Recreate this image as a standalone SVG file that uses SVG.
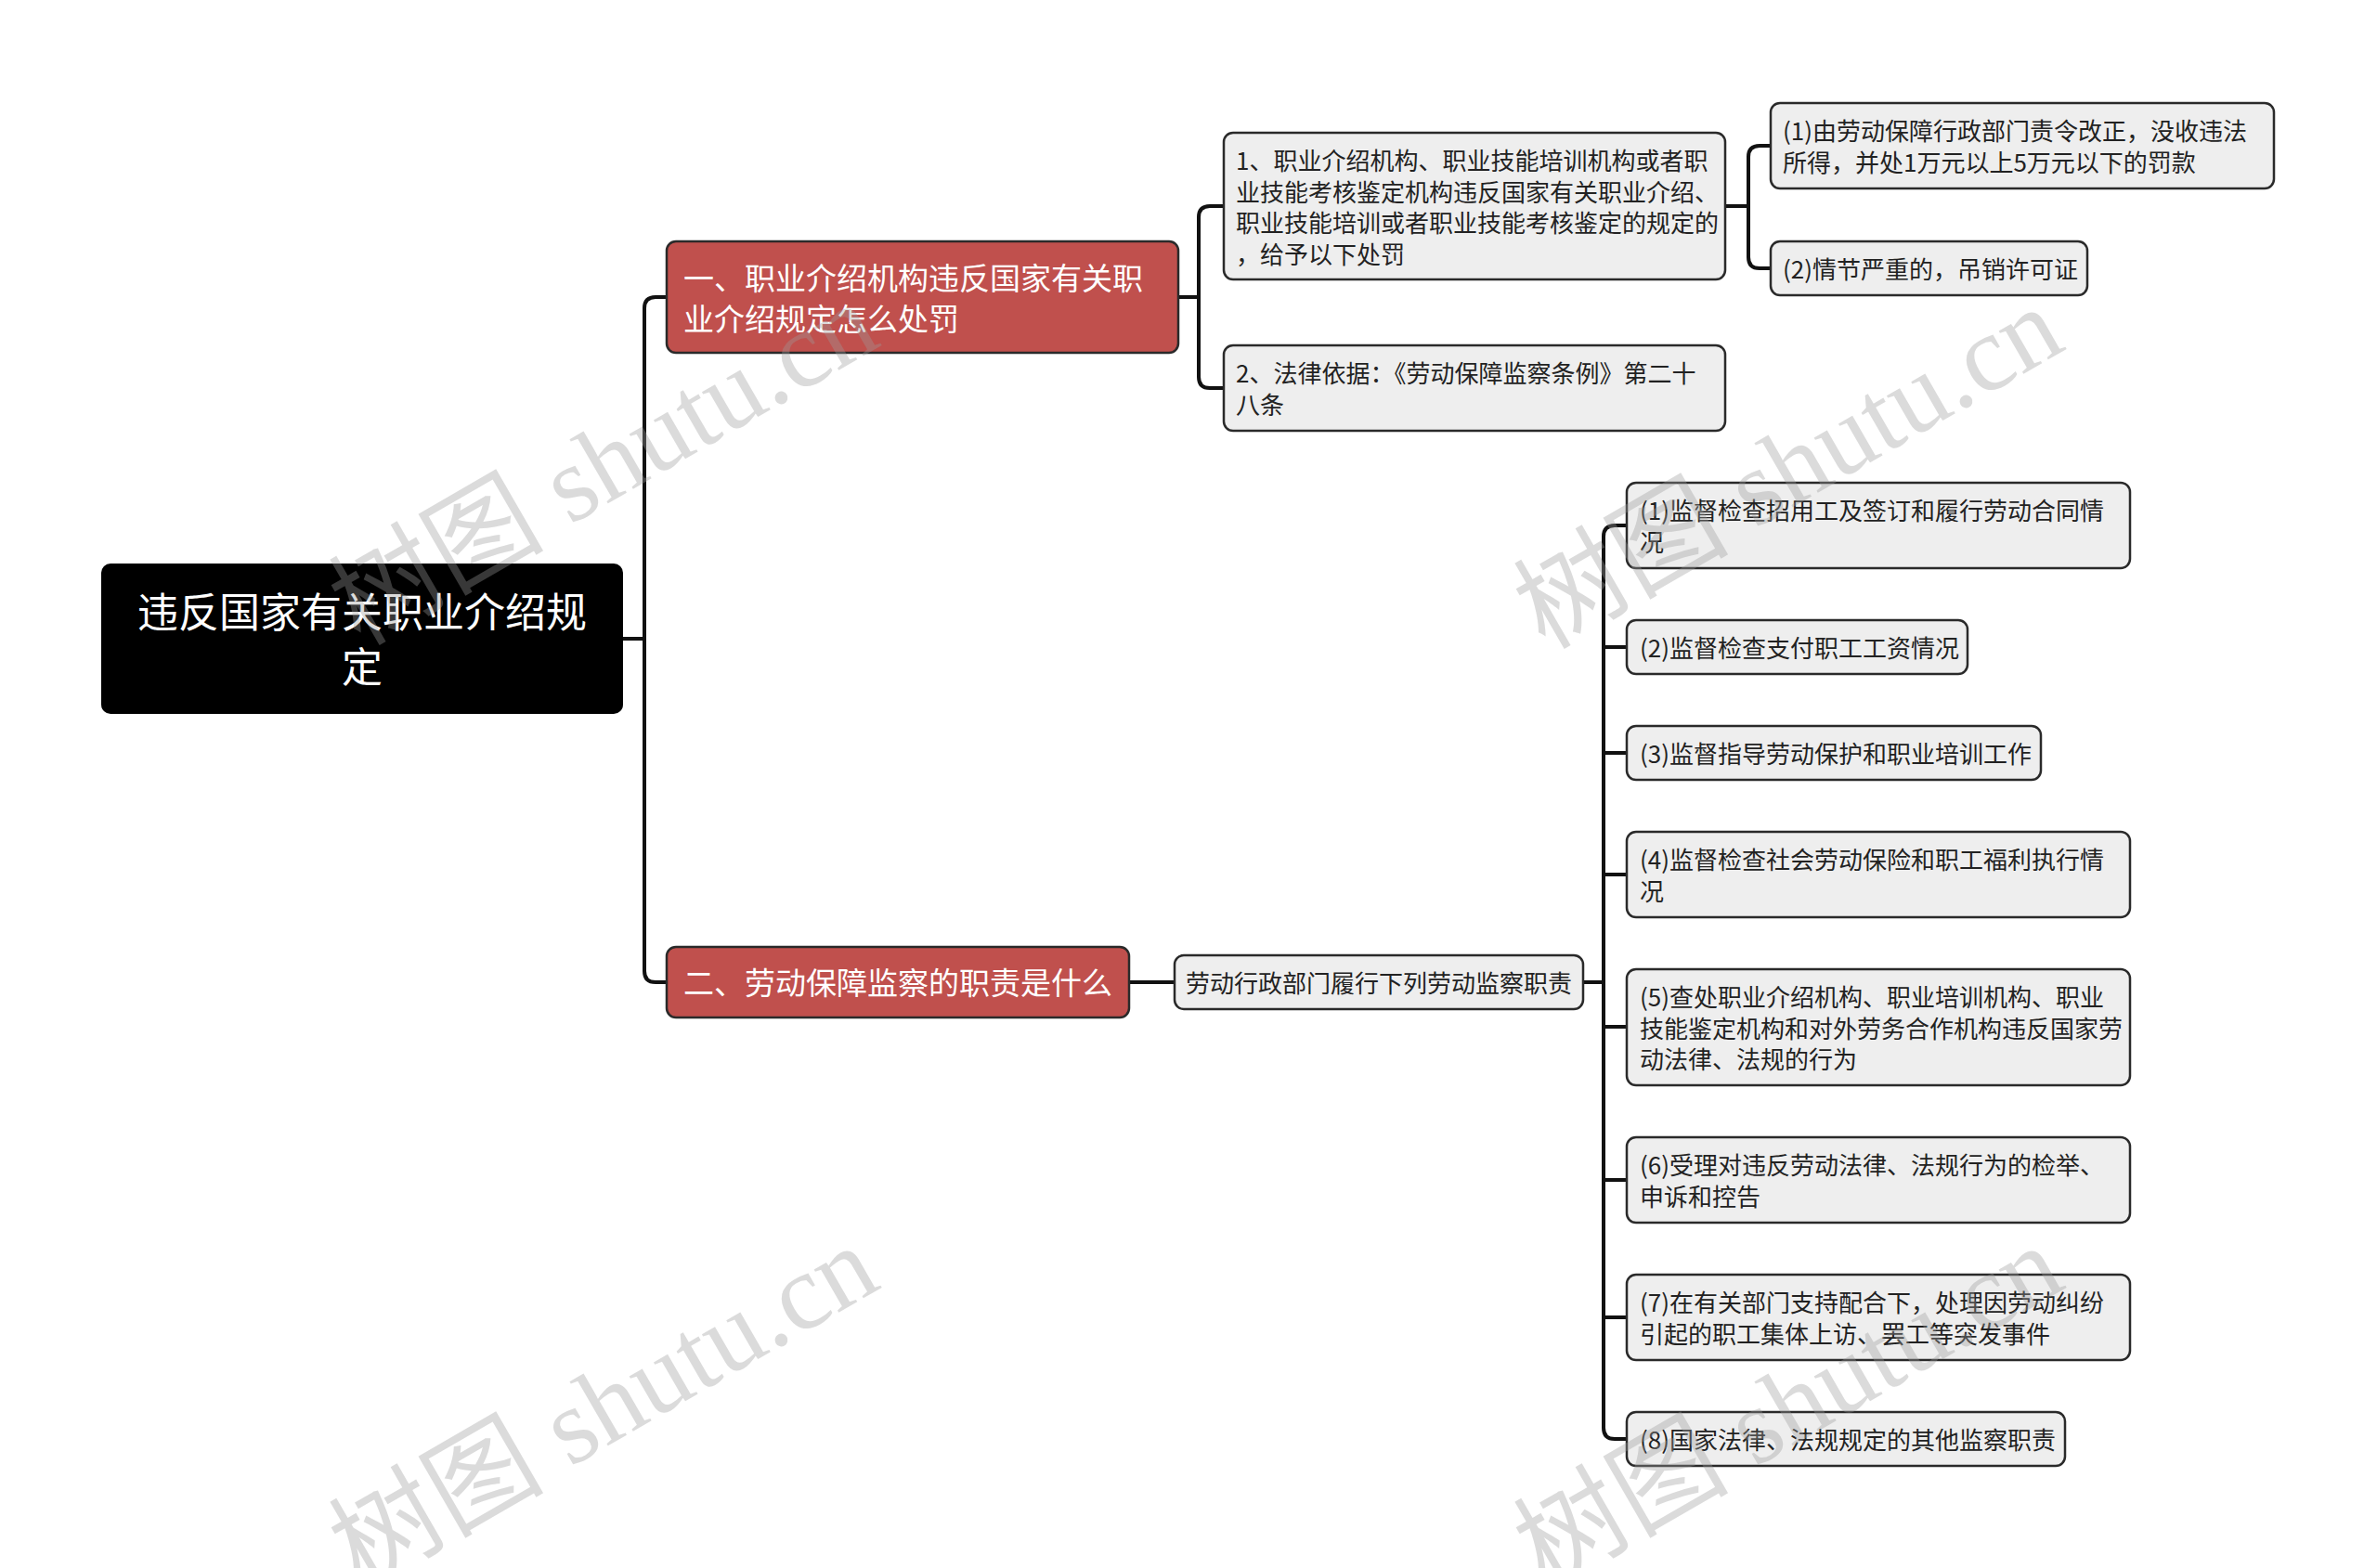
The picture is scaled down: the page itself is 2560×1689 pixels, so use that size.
<svg xmlns="http://www.w3.org/2000/svg" width="2560" height="1689" viewBox="0 0 2560 1689">
<style>
text{font-family:"Noto Sans CJK SC","Liberation Sans",sans-serif;}
.n rect{fill:#eeeeee;stroke:#2a2a2a;stroke-width:2.5;}
.n text{font-size:26px;fill:#222222;}
.r rect{fill:#c0504d;stroke:#2a2a2a;stroke-width:2.5;}
.r text{font-size:33px;fill:#ffffff;}
.root rect{fill:#000000;}
.root text{font-size:44px;fill:#ffffff;text-anchor:middle;}
.c path{fill:none;stroke:#111111;stroke-width:4;}
.wm text{font-family:"Liberation Serif","Noto Sans CJK SC",serif;font-size:116px;fill:#9a9a9a;fill-opacity:0.36;text-anchor:middle;dominant-baseline:central;}
</style>
<rect width="2560" height="1689" fill="#ffffff"/>
<g id="connectors" class="c">
<path d="M671,688 H694"/>
<path d="M718,320 H706 Q694,320 694,332 V1046 Q694,1058 706,1058 H718"/>
<path d="M1269,320 H1291"/>
<path d="M1318,222 H1303 Q1291,222 1291,234 V406 Q1291,418 1303,418 H1318"/>
<path d="M1858,222 H1883"/>
<path d="M1907,157 H1895 Q1883,157 1883,169 V277 Q1883,289 1895,289 H1907"/>
<path d="M1216,1058 H1265"/>
<path d="M1705,1058 H1727"/>
<path d="M1752,566 H1739 Q1727,566 1727,578 V1538 Q1727,1550 1739,1550 H1752"/>
<path d="M1727,697 H1752 M1727,811 H1752 M1727,942 H1752 M1727,1106 H1752 M1727,1271 H1752 M1727,1419 H1752"/>
</g>
<g id="root" class="root">
<rect x="109" y="607" width="562" height="162" rx="10"/>
<text x="390" y="676">违反国家有关职业介绍规</text>
<text x="390" y="735">定</text>
</g>
<g id="b1" class="r">
<rect x="718" y="260" width="551" height="120" rx="10"/>
<text x="736" y="312">一、职业介绍机构违反国家有关职</text>
<text x="736" y="356">业介绍规定怎么处罚</text>
</g>
<g id="b2" class="r">
<rect x="718" y="1020" width="498" height="76" rx="10"/>
<text x="736" y="1071">二、劳动保障监察的职责是什么</text>
</g>
<g id="n1" class="n">
<rect x="1318" y="143" width="540" height="158" rx="10"/>
<text x="1331" y="183">1、职业介绍机构、职业技能培训机构或者职</text>
<text x="1331" y="216.5">业技能考核鉴定机构违反国家有关职业介绍、</text>
<text x="1331" y="250">职业技能培训或者职业技能考核鉴定的规定的</text>
<text x="1331" y="283.5">，给予以下处罚</text>
</g>
<g id="n2" class="n">
<rect x="1318" y="372" width="540" height="92" rx="10"/>
<text x="1331" y="412">2、法律依据：《劳动保障监察条例》第二十</text>
<text x="1331" y="445.5">八条</text>
</g>
<g id="n1a" class="n">
<rect x="1907" y="111" width="542" height="92" rx="10"/>
<text x="1920" y="151">(1)由劳动保障行政部门责令改正，没收违法</text>
<text x="1920" y="184.5">所得，并处1万元以上5万元以下的罚款</text>
</g>
<g id="n1b" class="n">
<rect x="1907" y="260" width="341" height="58" rx="10"/>
<text x="1920" y="300">(2)情节严重的，吊销许可证</text>
</g>
<g id="sub" class="n">
<rect x="1265" y="1029" width="440" height="58" rx="10"/>
<text x="1277" y="1069">劳动行政部门履行下列劳动监察职责</text>
</g>
<g id="c1" class="n">
<rect x="1752" y="520" width="542" height="92" rx="10"/>
<text x="1766" y="560">(1)监督检查招用工及签订和履行劳动合同情</text>
<text x="1766" y="593.5">况</text>
</g>
<g id="c2" class="n">
<rect x="1752" y="668" width="367" height="58" rx="10"/>
<text x="1766" y="708">(2)监督检查支付职工工资情况</text>
</g>
<g id="c3" class="n">
<rect x="1752" y="782" width="446" height="58" rx="10"/>
<text x="1766" y="822">(3)监督指导劳动保护和职业培训工作</text>
</g>
<g id="c4" class="n">
<rect x="1752" y="896" width="542" height="92" rx="10"/>
<text x="1766" y="936">(4)监督检查社会劳动保险和职工福利执行情</text>
<text x="1766" y="969.5">况</text>
</g>
<g id="c5" class="n">
<rect x="1752" y="1044" width="542" height="125" rx="10"/>
<text x="1766" y="1084">(5)查处职业介绍机构、职业培训机构、职业</text>
<text x="1766" y="1117.5">技能鉴定机构和对外劳务合作机构违反国家劳</text>
<text x="1766" y="1151">动法律、法规的行为</text>
</g>
<g id="c6" class="n">
<rect x="1752" y="1225" width="542" height="92" rx="10"/>
<text x="1766" y="1265">(6)受理对违反劳动法律、法规行为的检举、</text>
<text x="1766" y="1298.5">申诉和控告</text>
</g>
<g id="c7" class="n">
<rect x="1752" y="1373" width="542" height="92" rx="10"/>
<text x="1766" y="1413">(7)在有关部门支持配合下，处理因劳动纠纷</text>
<text x="1766" y="1446.5">引起的职工集体上访、罢工等突发事件</text>
</g>
<g id="c8" class="n">
<rect x="1752" y="1521" width="472" height="58" rx="10"/>
<text x="1766" y="1561">(8)国家法律、法规规定的其他监察职责</text>
</g>
<g id="watermarks" class="wm">
<text transform="translate(650,500) rotate(-30)">树图 shutu.cn</text>
<text transform="translate(1926,504) rotate(-30)">树图 shutu.cn</text>
<text transform="translate(650,1515) rotate(-30)">树图 shutu.cn</text>
<text transform="translate(1926,1515) rotate(-30)">树图 shutu.cn</text>
</g>
</svg>
